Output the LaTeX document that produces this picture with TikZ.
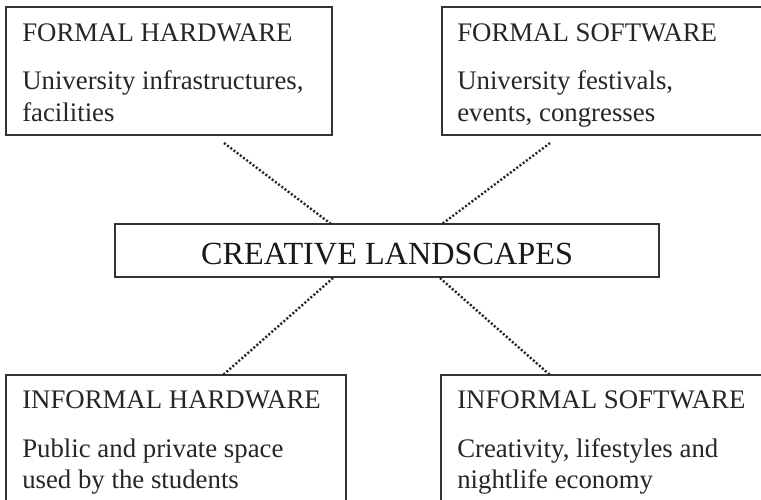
\documentclass[tikz,border=0pt]{standalone}
\usepackage{fontspec}
\setmainfont{Liberation Serif}
\tikzset{
  framebox/.style={draw=black!80,line width=1.1pt,inner sep=0pt,anchor=north west},
  lab/.style={anchor=base west,inner sep=0pt,text=black!85,font=\fontsize{20.1pt}{24pt}\selectfont},
  biglab/.style={inner sep=0pt,text=black!90,font=\fontsize{24.2pt}{28pt}\selectfont},
  link/.style={line width=1.8pt,dash pattern=on 1.5pt off 1.5pt,black!85}
}
\begin{document}
\begin{tikzpicture}[x=0.75pt,y=-0.75pt]
\useasboundingbox (0,0) rectangle (761,500);
\path[fill=white] (0,0) rectangle (761,500);
\draw[framebox] (6,7) rectangle (332,135);
\draw[framebox] (761,7) -- (442,7) -- (442,135) -- (761,135);
\draw[framebox] (115,224) rectangle (659,277);
\draw[framebox] (6,500) -- (6,375) -- (346,375) -- (346,500);
\draw[framebox] (761,375) -- (441,375) -- (441,500);
\node[lab] (a1) at (22,41) {FORMAL HARDWARE};
\node[lab] (a2) at (22,89) {University infrastructures,};
\node[lab] (a3) at (22,121) {facilities};
\node[lab] (b1) at (457,41) {FORMAL SOFTWARE};
\node[lab] (b2) at (457,89) {University festivals,};
\node[lab] (b3) at (457,121) {events, congresses};
\node[biglab] (c) at (387,254) {CREATIVE LANDSCAPES};
\node[lab] (d1) at (22,408) {INFORMAL HARDWARE};
\node[lab] (d2) at (22,457) {Public and private space};
\node[lab] (d3) at (22,488) {used by the students};
\node[lab] (e1) at (457,408) {INFORMAL SOFTWARE};
\node[lab] (e2) at (457,457) {Creativity, lifestyles and};
\node[lab] (e3) at (457,488) {nightlife economy};
\coordinate (p1) at (224,143);
\coordinate (q1) at (331,224);
\coordinate (p2) at (550,143);
\coordinate (q2) at (442,224);
\coordinate (p3) at (333,278);
\coordinate (q3) at (223,375);
\coordinate (p4) at (440,278);
\coordinate (q4) at (550,375);
\draw[link] (p1) -- (q1);
\draw[link] (p2) -- (q2);
\draw[link] (p3) -- (q3);
\draw[link] (p4) -- (q4);
\end{tikzpicture}
\end{document}
